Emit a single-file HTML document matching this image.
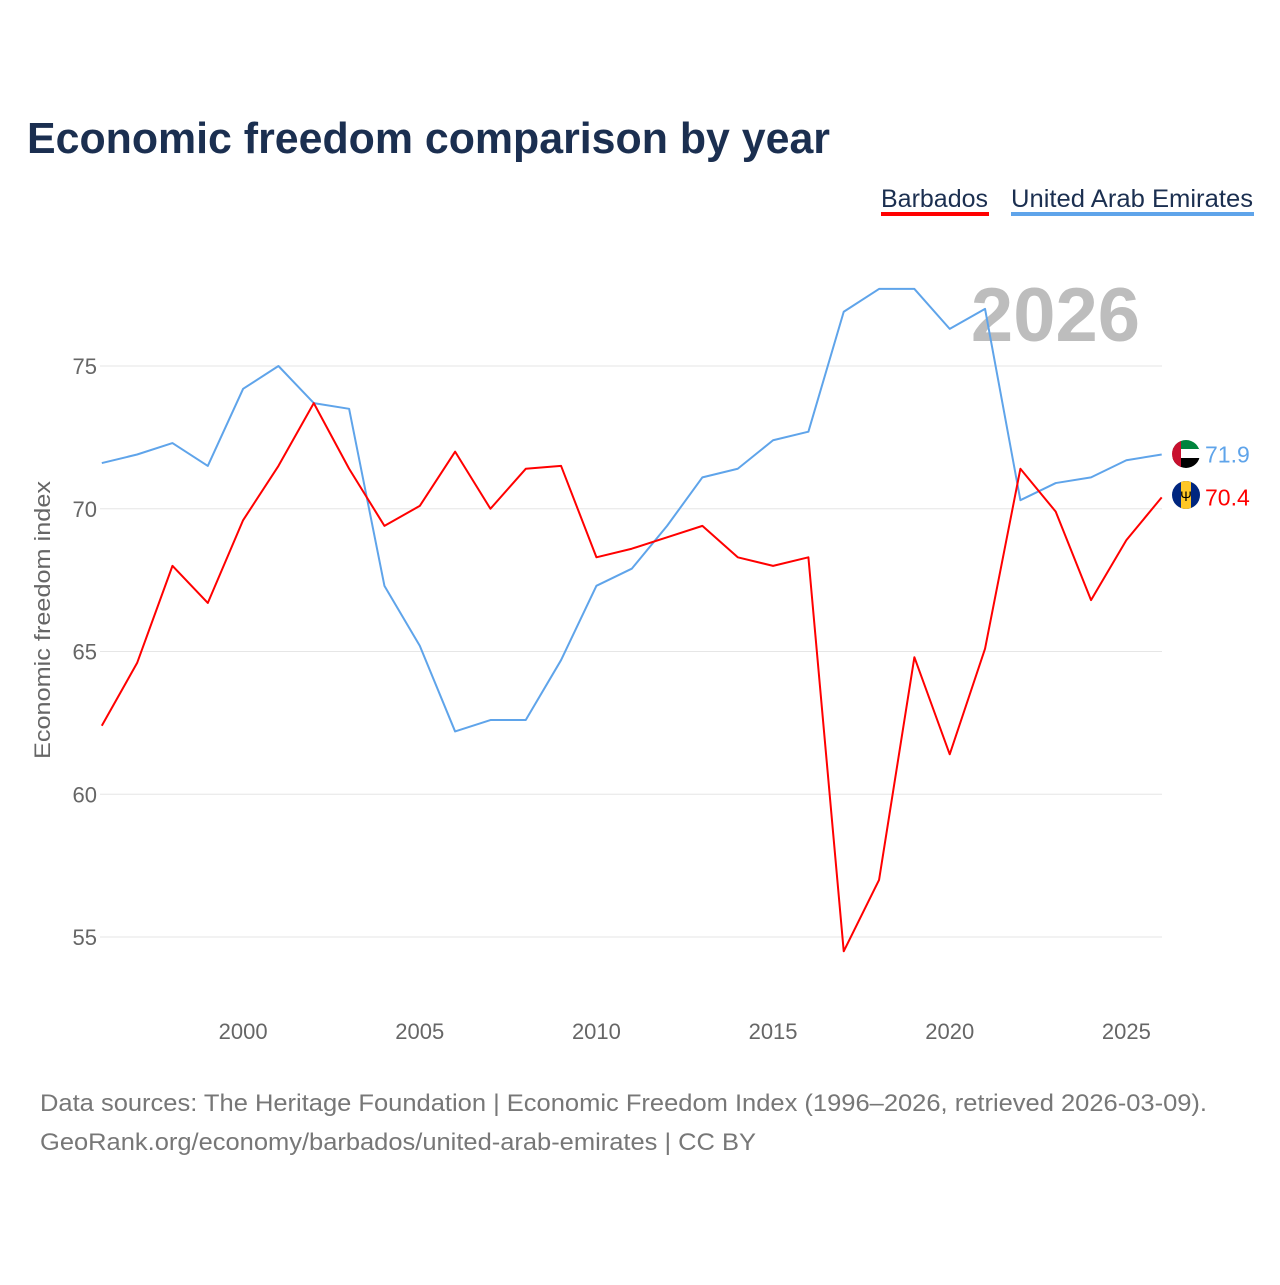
<!DOCTYPE html>
<html><head><meta charset="utf-8"><style>
body{margin:0;background:#fff;font-family:"Liberation Sans",sans-serif}
</style></head><body>
<svg id="chart" width="1280" height="1280" viewBox="0 0 1280 1280" style="font-family:'Liberation Sans',sans-serif">
<defs>
<clipPath id="cu"><circle cx="1186" cy="454" r="14"/></clipPath>
<clipPath id="cb"><circle cx="1186" cy="495" r="14"/></clipPath>
</defs>
<text x="27" y="153" font-size="44" font-weight="bold" fill="#1b2f50" textLength="803" lengthAdjust="spacingAndGlyphs">Economic freedom comparison by year</text>
<g>
<text x="881" y="207" font-size="25" fill="#1b2f50" textLength="107" lengthAdjust="spacingAndGlyphs">Barbados</text>
<rect x="881" y="212" width="108" height="4" fill="#ff0000"/>
<text x="1011" y="207" font-size="25" fill="#1b2f50" textLength="242" lengthAdjust="spacingAndGlyphs">United Arab Emirates</text>
<rect x="1011" y="212" width="243" height="4" fill="#5fa4ea"/>
</g>
<text x="1140" y="341" font-size="76" font-weight="bold" fill="#bdbdbd" text-anchor="end">2026</text>
<g id="grid"></g><g id="xt"></g>
<text transform="translate(50,620) rotate(-90)" font-size="22" fill="#666" text-anchor="middle" textLength="278" lengthAdjust="spacingAndGlyphs">Economic freedom index</text>
<g id="series"></g>
<g clip-path="url(#cu)">
<rect x="1172" y="440" width="28" height="10" fill="#00843d"/>
<rect x="1172" y="449" width="28" height="10" fill="#fff"/>
<rect x="1172" y="458" width="28" height="10" fill="#000"/>
<rect x="1172" y="440" width="9" height="28" fill="#c8102e"/>
</g>
<g clip-path="url(#cb)">
<rect x="1172" y="481" width="28" height="28" fill="#00267f"/>
<rect x="1181" y="481" width="10" height="28" fill="#ffc726"/>
<text x="1186" y="501" font-size="14" text-anchor="middle" fill="#000">Ψ</text>
</g>
<text x="40" y="1111" font-size="24" fill="#777" textLength="1167" lengthAdjust="spacingAndGlyphs">Data sources: The Heritage Foundation | Economic Freedom Index (1996–2026, retrieved 2026-03-09).</text>
<text x="40" y="1150" font-size="24" fill="#777" textLength="716" lengthAdjust="spacingAndGlyphs">GeoRank.org/economy/barbados/united-arab-emirates | CC BY</text>
</svg>
<script>
const years=[1996,1997,1998,1999,2000,2001,2002,2003,2004,2005,2006,2007,2008,2009,2010,2011,2012,2013,2014,2015,2016,2017,2018,2019,2020,2021,2022,2023,2024,2025,2026];
const barbados=[62.4,64.6,68.0,66.7,69.6,71.5,73.7,71.4,69.4,70.1,72.0,70.0,71.4,71.5,68.3,68.6,69.0,69.4,68.3,68.0,68.3,54.5,57.0,64.8,61.4,65.1,71.4,69.9,66.8,68.9,70.4];
const uae=[71.6,71.9,72.3,71.5,74.2,75.0,73.7,73.5,67.3,65.2,62.2,62.6,62.6,64.7,67.3,67.9,69.4,71.1,71.4,72.4,72.7,76.9,77.7,77.7,76.3,77.0,70.3,70.9,71.1,71.7,71.9];
const yTicks=[55,60,65,70,75];
const xTicks=[2000,2005,2010,2015,2020,2025];
const NS="http://www.w3.org/2000/svg";
const xs=y=>101.8+(y-1996)*35.33;
const ys=v=>366+(75-v)*28.55;
function mk(t,a,p){const e=document.createElementNS(NS,t);for(const k in a)e.setAttribute(k,a[k]);p.appendChild(e);return e;}
const g=document.getElementById('grid');
yTicks.forEach(v=>{
const l=mk('line',{x1:100,x2:1162,y1:ys(v),y2:ys(v),stroke:'#e6e6e6','stroke-width':1},g);


const t=mk('text',{x:97,y:ys(v)+8,'font-size':22,fill:'#666','text-anchor':'end'},g);
t.textContent=v;


});
const xg=document.getElementById('xt');
xTicks.forEach(v=>{
const t=mk('text',{x:xs(v),y:1039,'font-size':22,fill:'#666','text-anchor':'middle'},xg);
t.textContent=v;


});
const s=document.getElementById('series');
function line(vals,col,name){
const p=mk('polyline',{points:vals.map((v,i)=>xs(years[i])+','+ys(v)).join(' '),fill:'none',stroke:col,'stroke-width':2,'stroke-linejoin':'round'},s);


const last=vals[vals.length-1];
const t=mk('text',{x:1205,y:ys(last)+8,'font-size':23,fill:col},s);
t.textContent=last.toFixed(1);


}
line(uae,'#5fa4ea','uae');
line(barbados,'#ff0000','barbados');
</script>
</body></html>
